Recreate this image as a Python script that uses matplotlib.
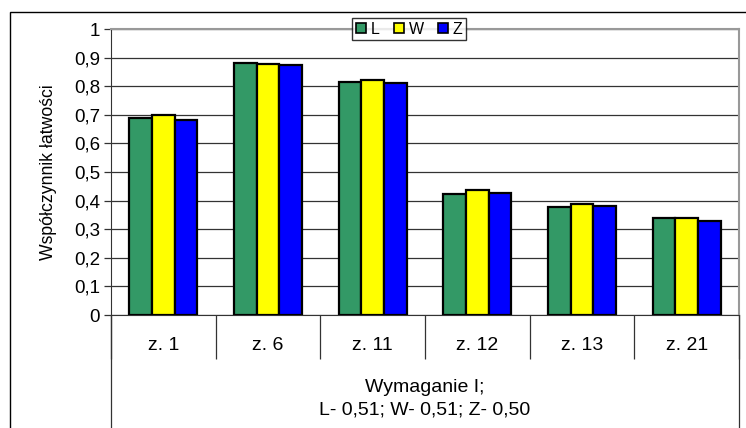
import matplotlib
matplotlib.use("Agg")
import matplotlib.pyplot as plt
from matplotlib.patches import Rectangle
from matplotlib.lines import Line2D
import numpy as np

plt.rcParams['font.family'] = ['Liberation Sans', 'DejaVu Sans']

# data
categories = ["z. 1", "z. 6", "z. 11", "z. 12", "z. 13", "z. 21"]
series_names = ["L", "W", "Z"]
L_vals = [0.688, 0.880, 0.815, 0.423, 0.377, 0.340]
W_vals = [0.700, 0.878, 0.823, 0.438, 0.387, 0.338]
Z_vals = [0.682, 0.873, 0.810, 0.425, 0.381, 0.330]
colors = ["#339966", "#FFFF00", "#0000FF"]
yticks = [0, 0.1, 0.2, 0.3, 0.4, 0.5, 0.6, 0.7, 0.8, 0.9, 1.0]
group_label = "Wymaganie I;\nL- 0,51; W- 0,51; Z- 0,50"
y_label = "Współczynnik łatwości"

fig = plt.figure(figsize=(7.46, 4.28), dpi=100)
ax = fig.add_axes([111 / 746, 1 - 315 / 428, 628 / 746, 286 / 428])

# outer chart border (cropped on the right and bottom)
fig.patches.append(Rectangle((10 / 746, -0.1), 1.2, 1.1 - 12 / 428, transform=fig.transFigure,
                             fill=False, edgecolor="black", linewidth=1.0))

x = np.arange(len(categories)) + 0.5
bw = 0.217
for i, vals in enumerate([L_vals, W_vals, Z_vals]):
    ax.bar(x + (i - 1) * bw, vals, width=bw, color=colors[i], edgecolor="black",
           linewidth=1.6, label=series_names[i], zorder=3)

ax.set_xlim(0, len(categories))
ax.set_ylim(0, 1)
ax.set_yticks(yticks)
ax.set_yticklabels([("%g" % v).replace(".", ",") for v in yticks], fontsize=13.5)
ax.yaxis.grid(True, color="#333333", linewidth=0.9, zorder=0)
ax.set_axisbelow(True)

# category boundaries as long ticks, labels on minor ticks
ax.set_xticks(np.arange(len(categories) + 1))
ax.set_xticklabels([])
ax.tick_params(axis="x", which="major", length=32, width=0.9, color="#333333")
ax.set_xticks(x, minor=True)
ax.set_xticklabels(categories, minor=True, fontsize=14)
ax.tick_params(axis="x", which="minor", length=0, pad=16)
ax.tick_params(axis="y", length=5, width=0.9, color="#333333", pad=3)

for side in ["top", "right"]:
    ax.spines[side].set_color("#999999")
    ax.spines[side].set_linewidth(1.5)
ax.spines["left"].set_color("#333333")
ax.spines["bottom"].set_color("#333333")

# outer group box lines
for xb in [0, 1]:
    ax.add_line(Line2D([xb, xb], [0, -0.5], transform=ax.transAxes, color="#333333",
                       linewidth=0.9, clip_on=False))
ax.text(0.5, -0.225, group_label, transform=ax.transAxes, ha="center", va="top",
        fontsize=14, linespacing=1.42)

ax.set_ylabel(y_label, fontsize=12.7, labelpad=12)

leg = ax.legend(ncol=3, loc="center", bbox_to_anchor=(0.475, 1.0), fontsize=11.5,
                frameon=True, fancybox=False, handlelength=0.6, handleheight=0.6,
                handletextpad=0.3, columnspacing=0.9, borderpad=0.25)
leg.get_frame().set_edgecolor("black")
leg.get_frame().set_linewidth(1.0)
for h in leg.legend_handles:
    h.set_linewidth(1.2)

fig.savefig("out.png", dpi=100)
